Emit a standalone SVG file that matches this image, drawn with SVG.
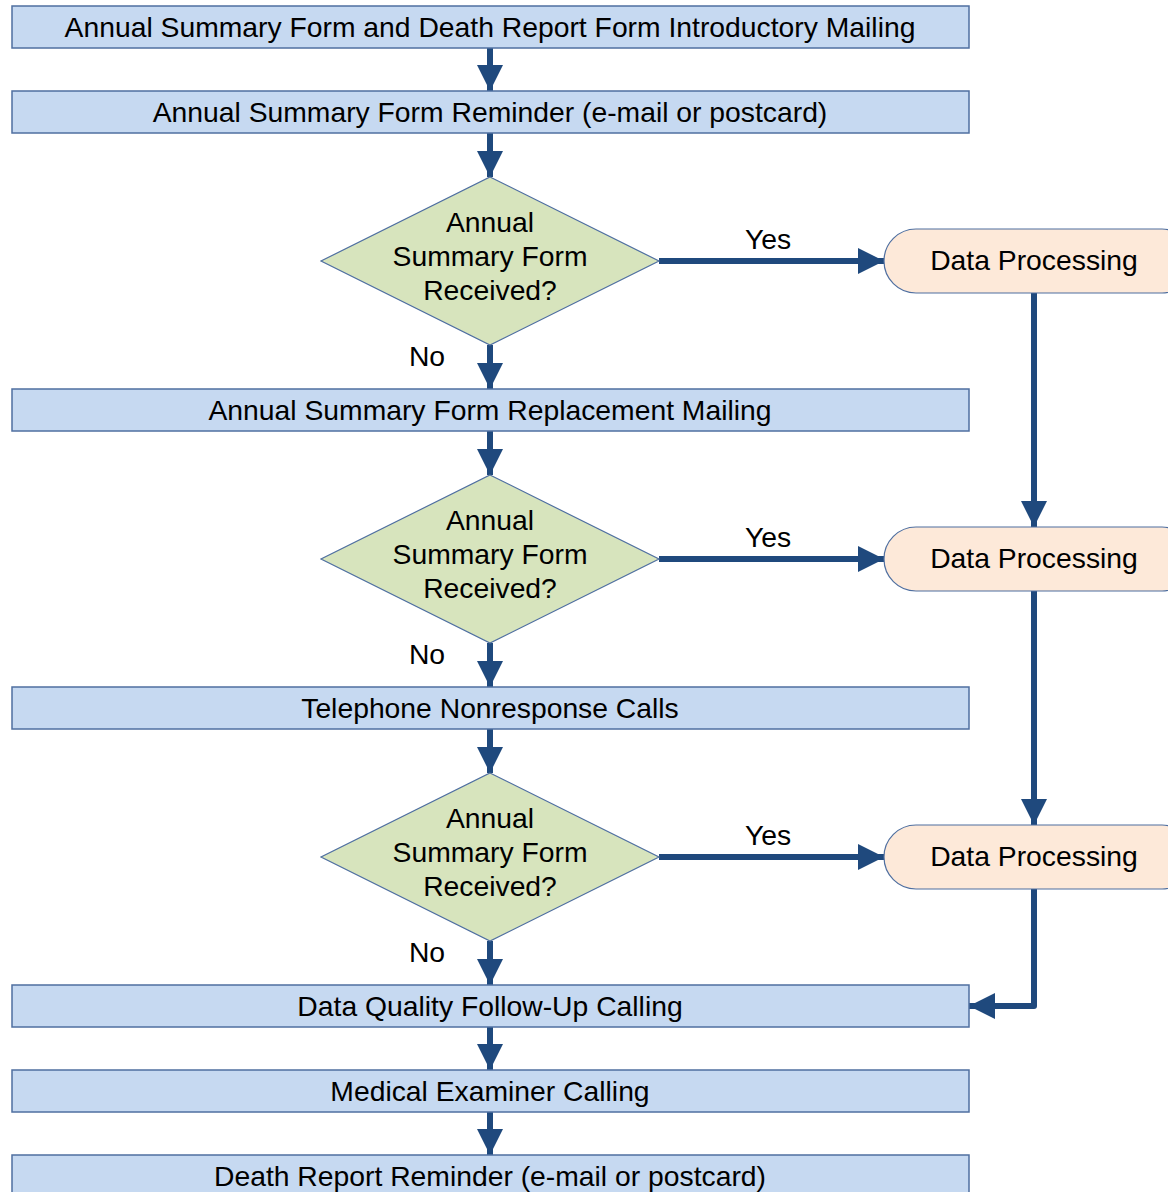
<svg xmlns="http://www.w3.org/2000/svg" width="1168" height="1192" viewBox="0 0 1168 1192">
<style>
.box{fill:#c6d9f1;stroke:#4f6fa0;stroke-width:1.5}
.dia{fill:#d7e4bd;stroke:#4f6fa0;stroke-width:1.2}
.term{fill:#fde9d9;stroke:#4f6fa0;stroke-width:1.2}
text{font-family:"Liberation Sans",Arial,sans-serif;font-size:28.3px;fill:#000;text-anchor:middle}
.c{fill:none;stroke:#1f497d;stroke-width:6}
</style>
<defs>
<marker id="ah" markerUnits="userSpaceOnUse" markerWidth="26" markerHeight="26" viewBox="0 0 26 26" refX="26" refY="13" orient="auto">
<path d="M0,0 L26,13 L0,26 Z" fill="#1f497d"/>
</marker>
</defs>
<rect width="1168" height="1192" fill="#fff"/>
<g id="connectors">
<path class="c" d="M490,48 V91" marker-end="url(#ah)"/>
<path class="c" d="M490,133 V177" marker-end="url(#ah)"/>
<path class="c" d="M490,345 V389" marker-end="url(#ah)"/>
<path class="c" d="M490,431 V475" marker-end="url(#ah)"/>
<path class="c" d="M490,643 V687" marker-end="url(#ah)"/>
<path class="c" d="M490,729 V773" marker-end="url(#ah)"/>
<path class="c" d="M490,941 V985" marker-end="url(#ah)"/>
<path class="c" d="M490,1027 V1070" marker-end="url(#ah)"/>
<path class="c" d="M490,1112 V1155" marker-end="url(#ah)"/>
<path class="c" d="M659,261 H884" marker-end="url(#ah)"/>
<path class="c" d="M659,559 H884" marker-end="url(#ah)"/>
<path class="c" d="M659,857 H884" marker-end="url(#ah)"/>
<path class="c" d="M1034,293 V527" marker-end="url(#ah)"/>
<path class="c" d="M1034,591 V825" marker-end="url(#ah)"/>
<path class="c" stroke-linejoin="round" d="M1034,889 V1006 H969" marker-end="url(#ah)"/>
<text x="768" y="249">Yes</text>
<text x="768" y="547">Yes</text>
<text x="768" y="845">Yes</text>
<text x="427" y="366">No</text>
<text x="427" y="664">No</text>
<text x="427" y="962">No</text>
</g>
<g id="n1"><rect class="box" x="12" y="6" width="957" height="42"/><text x="490" y="37">Annual Summary Form and Death Report Form Introductory Mailing</text></g>
<g id="n2"><rect class="box" x="12" y="91" width="957" height="42"/><text x="490" y="122">Annual Summary Form Reminder (e-mail or postcard)</text></g>
<g id="d1"><path class="dia" d="M490,177 L659,261 L490,345 L321,261 Z"/><text x="490" y="232">Annual</text><text x="490" y="266">Summary Form</text><text x="490" y="300">Received?</text></g>
<g id="t1"><rect class="term" x="884" y="229" width="310" height="64" rx="32"/><text x="1034" y="270">Data Processing</text></g>
<g id="n3"><rect class="box" x="12" y="389" width="957" height="42"/><text x="490" y="420">Annual Summary Form Replacement Mailing</text></g>
<g id="d2"><path class="dia" d="M490,475 L659,559 L490,643 L321,559 Z"/><text x="490" y="530">Annual</text><text x="490" y="564">Summary Form</text><text x="490" y="598">Received?</text></g>
<g id="t2"><rect class="term" x="884" y="527" width="310" height="64" rx="32"/><text x="1034" y="568">Data Processing</text></g>
<g id="n4"><rect class="box" x="12" y="687" width="957" height="42"/><text x="490" y="718">Telephone Nonresponse Calls</text></g>
<g id="d3"><path class="dia" d="M490,773 L659,857 L490,941 L321,857 Z"/><text x="490" y="828">Annual</text><text x="490" y="862">Summary Form</text><text x="490" y="896">Received?</text></g>
<g id="t3"><rect class="term" x="884" y="825" width="310" height="64" rx="32"/><text x="1034" y="866">Data Processing</text></g>
<g id="n5"><rect class="box" x="12" y="985" width="957" height="42"/><text x="490" y="1016">Data Quality Follow-Up Calling</text></g>
<g id="n6"><rect class="box" x="12" y="1070" width="957" height="42"/><text x="490" y="1101">Medical Examiner Calling</text></g>
<g id="n7"><rect class="box" x="12" y="1155" width="957" height="42"/><text x="490" y="1186">Death Report Reminder (e-mail or postcard)</text></g>
</svg>
